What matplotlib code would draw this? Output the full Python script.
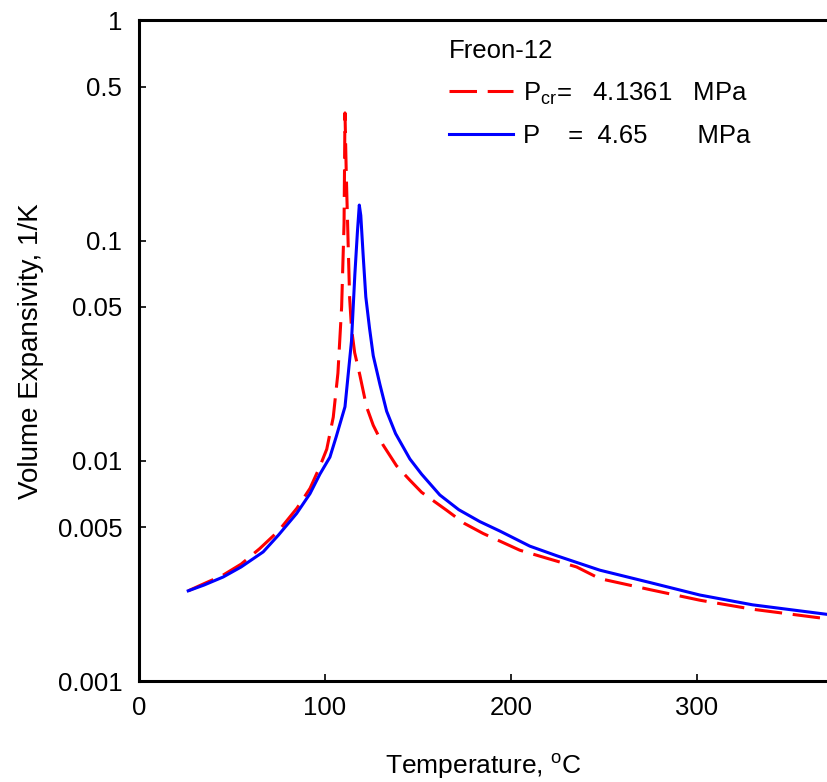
import matplotlib
matplotlib.use("Agg")
import matplotlib.pyplot as plt

# Freon-12 volume expansivity
temp_cr = [26.5, 35, 45, 55, 65, 75, 85, 92, 97, 101, 104.5, 107, 109, 110.3,
           110.8, 111.5, 112.5, 113.3, 114.3, 116, 118.8, 122.4, 126, 131.3, 138.5,
           145.7, 152, 165.4, 175, 185.1, 204.8, 220, 235.3, 247.8, 275, 301.6,
           330, 363.4, 370]
beta_cr = [0.00257, 0.00277, 0.00302, 0.0034, 0.0040, 0.0048, 0.0061, 0.0075,
           0.0093, 0.0113, 0.0158, 0.025, 0.050, 0.12,
           0.38, 0.20, 0.097, 0.055, 0.040, 0.031, 0.0245, 0.0176, 0.0145, 0.0118, 0.0095,
           0.00817, 0.0072, 0.00597, 0.0052, 0.00468, 0.00393, 0.0036, 0.0033,
           0.00292, 0.0026, 0.00233, 0.00212, 0.00195, 0.00192]

temp_p = [26.5, 35, 45.3, 55, 66.8, 75, 84.8, 92, 97.3, 102.7, 106, 110.8, 114.3,
          116.1, 117.5, 118.5, 119.3, 120.6, 122, 124, 126, 129.6, 133.2, 138, 145.7,
          152, 161.8, 172, 183.3, 194.1, 210.2, 225, 237.1, 247.8, 275, 301.6, 330,
          366, 370]
beta_p = [0.00257, 0.00273, 0.00297, 0.0033, 0.00386, 0.0046, 0.00577, 0.0071,
          0.0087, 0.0104, 0.0128, 0.0176, 0.035,
          0.07, 0.11, 0.145, 0.13, 0.085, 0.0555, 0.040, 0.0300, 0.0222, 0.0168, 0.0133, 0.0102,
          0.0087, 0.0070, 0.0060, 0.0053, 0.0048, 0.0041, 0.0037, 0.00342,
          0.00319, 0.0028, 0.00246, 0.00222, 0.00203, 0.00201]

y_ticks = [0.001, 0.005, 0.01, 0.05, 0.1, 0.5, 1]
y_labels = ['0.001', '0.005', '0.01', '0.05', '0.1', '0.5', '1']
x_ticks = [0, 100, 200, 300]

plt.rcParams['font.family'] = ['Liberation Sans', 'DejaVu Sans']
plt.rcParams['mathtext.fontset'] = 'custom'
plt.rcParams['mathtext.rm'] = 'Liberation Sans'
plt.rcParams['mathtext.it'] = 'Liberation Sans'

fig = plt.figure(figsize=(8.27, 7.82), dpi=100)
ax = fig.add_axes([0.168, 0.129, 0.832, 0.845])

ax.plot(temp_cr, beta_cr, color='#ff0000', lw=2.2, dashes=(9, 3.5),
        label=r'P$_{\mathrm{cr}}$=   4.1361   MPa')
ax.plot(temp_p, beta_p, color='#0000ff', lw=2.2,
        label='P    =  4.65       MPa')

ax.set_yscale('log')
ax.set_ylim(0.001, 1)
ax.set_xlim(0, 370)
ax.set_yticks(y_ticks)
ax.set_yticklabels(y_labels)
ax.yaxis.set_minor_locator(matplotlib.ticker.NullLocator())
ax.set_xticks(x_ticks)

ax.tick_params(direction='in', length=5, width=1.2, labelsize=18.5)
ax.tick_params(axis='x', pad=11)
ax.tick_params(axis='y', pad=12)
for side in ['left', 'bottom', 'top']:
    ax.spines[side].set_linewidth(2.2)
ax.spines['right'].set_visible(False)

ax.set_xlabel(r'Temperature, $^{\mathrm{o}}$C', fontsize=19, labelpad=23)
ax.set_ylabel('Volume Expansivity, 1/K', fontsize=20, labelpad=10)

leg = ax.legend(title='Freon-12', loc='upper left', bbox_to_anchor=(0.417, 1.006),
                frameon=False, fontsize=18.5, title_fontsize=18.5,
                handlelength=2.5, handletextpad=0.39, labelspacing=0.66,
                alignment='left')

fig.savefig('out.png', dpi=100)
